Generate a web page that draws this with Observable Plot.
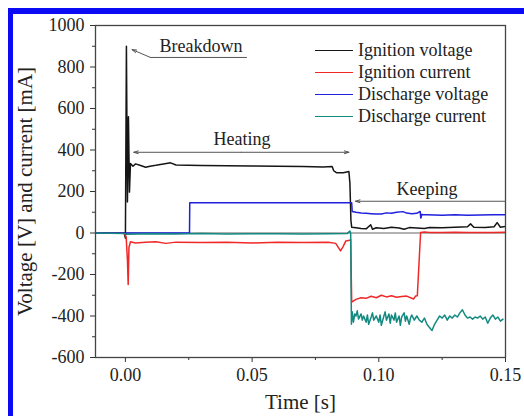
<!DOCTYPE html>
<html><head><meta charset="utf-8">
<script src="https://cdn.jsdelivr.net/npm/d3@7"></script>
<script src="https://cdn.jsdelivr.net/npm/@observablehq/plot@0.6"></script>
<style>
body{margin:0;background:#fff;}
#wrap{position:relative;width:524px;height:416px;overflow:hidden;background:#fff;}
#border{position:absolute;left:8px;top:8px;width:516px;height:408px;border-top:6px solid #0a0af5;border-left:5px solid #0a0af5;box-sizing:border-box;pointer-events:none;}
#legend{position:absolute;left:315px;top:39px;font-family:"Liberation Serif","Times New Roman",serif;font-size:18px;color:#222;}
#legend div{height:22.2px;display:flex;align-items:center;white-space:nowrap;}
#legend span.l{display:inline-block;width:38px;height:0;border-top:1.6px solid;margin-right:5px;}
</style>
</head><body>
<div id="wrap"><div id="chart"></div><div id="legend"></div><div id="border"></div></div>
<script>
// ---- data ----
const seriesNames = ["Ignition voltage","Ignition current","Discharge voltage","Discharge current"];
const seriesColors = ["#151515","#f02828","#2020dd","#138a80"];

const ivT = [-0.0118,-0.0005,0,0.0004,0.0008,0.0012,0.0016,0.002,0.003,0.004,0.006,0.008,0.0097,0.012,0.015,0.0178,0.020,0.025,0.030,0.040,0.050,0.060,0.070,0.078,0.0816,0.0822,0.083,0.0835,0.086,0.0882,0.0886,0.0890,0.0893,0.091,0.093,0.095,0.0968,0.0975,0.099,0.102,0.105,0.108,0.110,0.112,0.115,0.118,0.120,0.125,0.130,0.135,0.1362,0.1375,0.142,0.1455,0.1467,0.148,0.15];
const ivV = [0,0,-25,900,150,560,197,335,322,333,325,317,322,326,333,338,328,326,325,324,323,322,320,318,320,300,293,290,290,296,240,60,28,25,22,20,40,18,25,22,28,24,18,26,24,22,26,25,28,30,44,28,27,30,50,28,32];

const icT = [-0.0118,-0.0005,0.0003,0.0008,0.0011,0.0014,0.002,0.004,0.008,0.012,0.016,0.020,0.030,0.040,0.050,0.060,0.070,0.080,0.083,0.0849,0.0858,0.087,0.0885,0.0889,0.0893,0.091,0.093,0.095,0.097,0.099,0.101,0.103,0.105,0.107,0.109,0.111,0.1137,0.1145,0.1152,0.1165,0.118,0.120,0.125,0.130,0.135,0.140,0.145,0.15];
const icV = [0,0,-20,-130,-248,-70,-42,-48,-45,-42,-50,-44,-46,-45,-48,-44,-46,-45,-50,-86,-68,-38,-35,-32,-333,-320,-312,-315,-305,-312,-300,-308,-302,-310,-306,-304,-318,-304,-302,2,5,3,2,4,2,3,2,4];

const dvT = [-0.0118,0.0253,0.0254,0.0893,0.0895,0.091,0.093,0.095,0.097,0.099,0.101,0.103,0.105,0.107,0.1095,0.111,0.113,0.115,0.1163,0.1166,0.117,0.1172,0.119,0.122,0.125,0.130,0.135,0.140,0.145,0.15];
const dvV = [0,0,146,146,104,100,96,95,93,91,92,97,95,100,103,96,93,95,104,72,90,89,88,87,86,88,86,87,88,88];

const dcT = [-0.0118,-0.0005,0.0004,0.01,0.02,0.03,0.04,0.05,0.06,0.07,0.08,0.0875,0.0886,0.0889,0.0892,0.0895,0.0900,0.0905,0.0910,0.0915,0.0920,0.0930,0.0935,0.0940,0.0950,0.0955,0.0960,0.0970,0.0975,0.0980,0.0990,0.1000,0.1005,0.1010,0.1020,0.1025,0.1030,0.1040,0.1045,0.1050,0.1060,0.1065,0.1070,0.1080,0.1085,0.1090,0.1100,0.1105,0.1110,0.1120,0.1125,0.1130,0.1140,0.1150,0.1160,0.1170,0.1180,0.1190,0.1200,0.1210,0.1220,0.1230,0.1240,0.1250,0.1260,0.1270,0.1280,0.1290,0.1300,0.1310,0.1320,0.1330,0.1340,0.1350,0.1360,0.1370,0.1380,0.1390,0.1400,0.1410,0.1420,0.1430,0.1440,0.1450,0.1460,0.1470,0.1480,0.1490,0.1500];
const dcV = [0,-3,-6,-4,-5,-3,-5,-4,-4,-5,-4,-3,10,-2,-440,-380,-430,-390,-400,-375,-415,-390,-420,-400,-430,-395,-440,-405,-385,-420,-400,-430,-395,-445,-400,-380,-420,-390,-435,-395,-420,-385,-430,-400,-445,-405,-385,-425,-400,-440,-410,-395,-420,-400,-420,-430,-410,-440,-455,-470,-440,-420,-400,-410,-395,-420,-400,-410,-395,-405,-385,-370,-395,-410,-405,-415,-405,-410,-400,-415,-405,-435,-410,-395,-415,-405,-425,-415];

const xTicks = [0, 0.05, 0.10, 0.15];
const xMinor = [0.025, 0.075, 0.125];
const yTicks = [-600,-400,-200,0,200,400,600,800,1000];
const yMinor = [-500,-300,-100,100,300,500,700,900];

// annotations
const heatSpan = [0.0033, 0.0882], heatLevel = 389;
const keepSpan = [0.15, 0.0908], keepLevel = 153;
const breakTip = [0.0026, 884], breakElbow = [0.0099, 846], breakEnd = 0.0478;

const rows = (T, V, s) => T.map((t, i) => ({t, v: V[i], s}));
const data = [
  ...rows(ivT, ivV, seriesNames[0]),
  ...rows(icT, icV, seriesNames[1]),
  ...rows(dvT, dvV, seriesNames[2]),
  ...rows(dcT, dcV, seriesNames[3])
];
const grey = "#555";
const FONT = '"Liberation Serif", "Times New Roman", Times, serif';

const chart = Plot.plot({
  width: 524, height: 416,
  marginLeft: 95, marginRight: 19, marginTop: 25, marginBottom: 59,
  style: {fontSize: "18px", color: "#222", background: "#fff"},
  x: {domain: [-0.0118, 0.15]},
  y: {domain: [-600, 1000]},
  color: {domain: seriesNames, range: seriesColors},
  marks: [
    Plot.ruleY([0], {stroke: "#666", strokeWidth: 1.2}),
    Plot.line(data, {x: "t", y: "v", z: "s", stroke: "s", strokeWidth: 1.5, clip: true}),
    Plot.axisX(xTicks, {tickSize: 5, tickPadding: 6, tickFormat: d3.format(".2f"), label: null, stroke: "#333", fontSize: 18}),
    Plot.axisX(xMinor, {tickSize: 3, tickFormat: () => "", label: null, stroke: "#333"}),
    Plot.axisY(yTicks, {tickSize: 5, tickPadding: 6, tickFormat: d => String(d), label: null, stroke: "#333", fontSize: 18}),
    Plot.axisY(yMinor, {tickSize: 3, tickFormat: () => "", label: null, stroke: "#333"}),
    Plot.frame({stroke: "#444", strokeWidth: 1.3}),
    // Heating
    Plot.arrow([0], {x1: () => (heatSpan[0]+heatSpan[1])/2, y1: heatLevel, x2: () => heatSpan[0], y2: heatLevel, stroke: grey, strokeWidth: 1, headLength: 7, headAngle: 35}),
    Plot.arrow([0], {x1: () => (heatSpan[0]+heatSpan[1])/2, y1: heatLevel, x2: () => heatSpan[1], y2: heatLevel, stroke: grey, strokeWidth: 1, headLength: 7, headAngle: 35}),
    Plot.text(["Heating"], {x: () => (heatSpan[0]+heatSpan[1])/2 + 0.0003, y: heatLevel, text: d => d, dy: -13, fontSize: 18, fill: "#222"}),
    // Keeping
    Plot.arrow([0], {x1: () => keepSpan[0], y1: keepLevel, x2: () => keepSpan[1], y2: keepLevel, stroke: grey, strokeWidth: 1, headLength: 7, headAngle: 35}),
    Plot.text(["Keeping"], {x: () => 0.119, y: keepLevel, text: d => d, dy: -12, fontSize: 18, fill: "#222"}),
    // Breakdown
    Plot.line([[breakEnd, breakElbow[1]], breakElbow], {x: d => d[0], y: d => d[1], stroke: grey, strokeWidth: 1}),
    Plot.arrow([0], {x1: () => breakElbow[0], y1: breakElbow[1], x2: () => breakTip[0], y2: breakTip[1], stroke: grey, strokeWidth: 1, headLength: 7, headAngle: 35}),
    Plot.text(["Breakdown"], {x: () => 0.0298, y: breakElbow[1], text: d => d, dy: -11, fontSize: 18, fill: "#222"}),
    // axis titles
    Plot.text(["Voltage [V] and current [mA]"], {frameAnchor: "left", text: d => d, dx: -70, rotate: -90, textAnchor: "middle", lineAnchor: "middle", fontSize: 21, fill: "#222"}),
    Plot.text(["Time [s]"], {frameAnchor: "bottom", text: d => d, dy: 45, lineAnchor: "middle", fontSize: 21, fill: "#222"})
  ]
});
chart.setAttribute("font-family", FONT);
chart.style.fontFamily = FONT;
chart.querySelectorAll("g, text, tspan").forEach(el => {
  el.setAttribute("font-family", FONT);
  el.style.setProperty("font-family", FONT, "important");
});
document.getElementById("chart").appendChild(chart);

const lg = document.getElementById("legend");
seriesNames.forEach((n, i) => {
  const row = document.createElement("div");
  row.innerHTML = `<span class="l" style="border-color:${seriesColors[i]}"></span>${n}`;
  lg.appendChild(row);
});
</script>
</body></html>
